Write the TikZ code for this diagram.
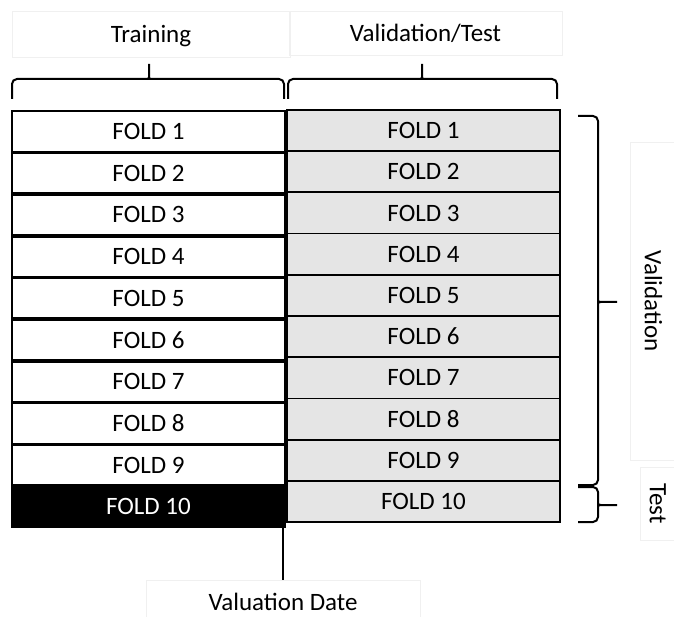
\documentclass[tikz,border=0pt]{standalone}
\usepackage{fontspec}
\setmainfont{Carlito}
\usetikzlibrary{positioning}

\begin{document}
\begin{tikzpicture}[
  x=1pt, y=-1pt,
  every node/.style={font=\fontsize{25}{30}\selectfont},
  fold/.style={draw, line width=2pt, minimum width=273pt, minimum height=40.2pt, inner sep=0pt},
  trainbox/.style={fold, fill=white},
  lastbox/.style={fold, fill=black, text=white},
  testbox/.style={fold, fill=gray!20, minimum height=41.2pt, line width=1.8pt},
  lbl/.style={draw=gray!12, line width=0.8pt, inner sep=0pt, text depth=0pt},
  brc/.style={line width=2pt, rounded corners=5pt}
]
\useasboundingbox (0,0) rectangle (674,617);
% column headers
\node[lbl, minimum width=278pt, minimum height=46pt] (train) at (151,34) {Training};
\node[lbl, minimum width=273pt, minimum height=44pt] (valtest) at (425.5,33) {Validation/Test};
% folds
\foreach \i in {1,...,9}
  \node[trainbox] (l\i) at (148.5,{110.7+41.7*(\i-0.5)}) {FOLD \i};
\node[lastbox] (l10) at (148.5,{110.7+41.7*9.5}) {FOLD 10};
\foreach \i in {1,...,10}
  \node[testbox] (r\i) at (423.5,{110+41.2*(\i-0.5)}) {FOLD \i};
% braces
\draw[brc] (12,99) |- (144,79) .. controls (148,79) and (149,77) .. (149,72) -- (149,61)
  -- (149,72) .. controls (149,77) and (150,79) .. (154,79) -| (284,99);
\draw[brc] (288,99) |- (417,79) .. controls (421,79) and (422,77) .. (422,72) -- (422,61)
  -- (422,72) .. controls (422,77) and (423,79) .. (427,79) -| (557,99);
\draw[brc] (578,116) -| (598,297) .. controls (598,301) and (600,302) .. (606,302) -- (620,302)
  -- (606,302) .. controls (600,302) and (598,303) .. (598,307) |- (578,485);
\draw[brc] (578,487) -| (598,500) .. controls (598,504) and (600,505) .. (606,505) -- (620,505)
  -- (606,505) .. controls (600,505) and (598,506) .. (598,510) |- (578,522);
% side labels
\node[lbl, rotate=-90, minimum width=318pt, minimum height=46pt] (valid) at (653.5,301) {Validation};
\node[lbl, rotate=-90, minimum width=73pt, minimum height=36pt] (test) at (658,503.5) {Test};
% valuation date
\node[lbl, minimum width=274pt, minimum height=44pt] (date) at (283,602) {Valuation Date};
\draw[line width=2pt] (date.north) -- (date.north |- l10.south);
\end{tikzpicture}
\end{document}
